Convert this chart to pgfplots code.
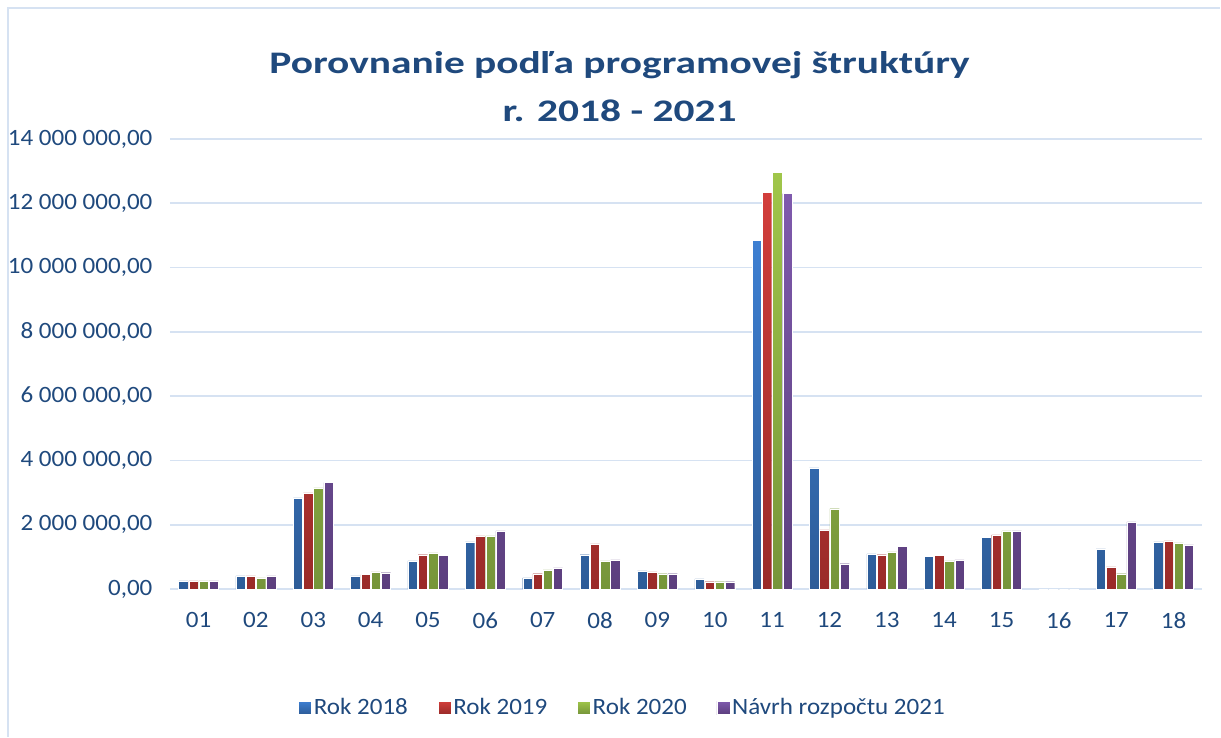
\documentclass[border=0pt]{standalone}
\usepackage{pgfplots}
\pgfplotsset{compat=1.18}
\usepackage{fontspec}
\setmainfont{Carlito}
\newfontfamily\widefont[FakeStretch=1.07]{Carlito}
\newfontfamily\titlefont[FakeStretch=1.32]{Carlito}
\definecolor{txt}{HTML}{1F497D}
\definecolor{gridc}{HTML}{D6E2F2}
\definecolor{b1}{HTML}{3D7FD2}\definecolor{b2}{HTML}{2D5C98}
\definecolor{r1}{HTML}{D23E3B}\definecolor{r2}{HTML}{9A2B29}
\definecolor{g1}{HTML}{A0C64A}\definecolor{g2}{HTML}{76953A}
\definecolor{p1}{HTML}{7F5AAD}\definecolor{p2}{HTML}{5C3F7E}
\pgfplotstableread{
x a b c d
1 0.26 0.26 0.26 0.26
2 0.41 0.41 0.35 0.41
3 2.84 2.99 3.15 3.31
4 0.41 0.45 0.54 0.51
5 0.88 1.07 1.13 1.04
6 1.47 1.66 1.66 1.81
7 0.35 0.48 0.60 0.66
8 1.07 1.41 0.88 0.91
9 0.57 0.54 0.48 0.48
10 0.32 0.23 0.23 0.23
11 10.84 12.33 12.95 12.30
12 3.77 1.84 2.50 0.79
13 1.10 1.07 1.16 1.32
14 1.01 1.04 0.88 0.91
15 1.60 1.69 1.81 1.81
16 0 0 0 0
17 1.25 0.69 0.48 2.09
18 1.47 1.50 1.44 1.38
}\data
\begin{document}
\begin{tikzpicture}
\begin{axis}[
  at={(0bp,0bp)}, anchor=south west,
  scale only axis, width=1033bp, height=450.5bp,
  ybar=0.8bp, bar width=9.4bp,
  xmin=0.5, xmax=18.5, ymin=0, ymax=14,
  axis line style={draw=none},
  xtick={1,...,18},
  xticklabels={01,02,03,04,05,06,07,08,09,10,11,12,13,14,15,16,17,18},
  ytick={0,2,...,14},
  yticklabels={{0,00},{2 000 000,00},{4 000 000,00},{6 000 000,00},{8 000 000,00},{10 000 000,00},{12 000 000,00},{14 000 000,00}},
  major tick length=0pt,
  ymajorgrids, grid style={draw=gridc, line width=1.5bp},
  tick label style={font=\widefont\fontsize{23.5}{28}\selectfont, text=txt},
  yticklabel style={xshift=-14bp},
  xticklabel style={yshift=-20bp},
  title={Porovnanie podľa programovej štruktúry\\r. 2018 - 2021},
  title style={at={(0.4356,1)}, anchor=south, yshift=8bp, align=center,
    font=\titlefont\fontsize{31.5}{48}\selectfont\bfseries, text=txt},
  legend columns=4,
  legend style={at={(0.4385,-0.263)}, anchor=center, draw=none, fill=none,
    font=\widefont\fontsize{23.5}{28}\selectfont, text=txt,
    /tikz/every even column/.append style={column sep=28bp}},
  sq/.style={legend image code/.code={\fill[##1] (0bp,-6.5bp) rectangle (13bp,6.5bp);}},
]
\addplot[draw=white, line width=0.4bp, top color=b1, bottom color=b2, sq] table[x=x,y=a]{\data};
\addplot[draw=white, line width=0.4bp, top color=r1, bottom color=r2, sq] table[x=x,y=b]{\data};
\addplot[draw=white, line width=0.4bp, top color=g1, bottom color=g2, sq] table[x=x,y=c]{\data};
\addplot[draw=white, line width=0.4bp, top color=p1, bottom color=p2, sq] table[x=x,y=d]{\data};
\legend{Rok 2018, Rok 2019, Rok 2020, Návrh rozpočtu 2021}
\end{axis}
\draw[gridc, line width=1.5bp] (-162bp,-147.5bp) -- (-162bp,581.5bp) -- (1051bp,581.5bp);
\path[use as bounding box] (-170bp,-147.5bp) rectangle (1051bp,589.5bp);
\end{tikzpicture}
\end{document}
